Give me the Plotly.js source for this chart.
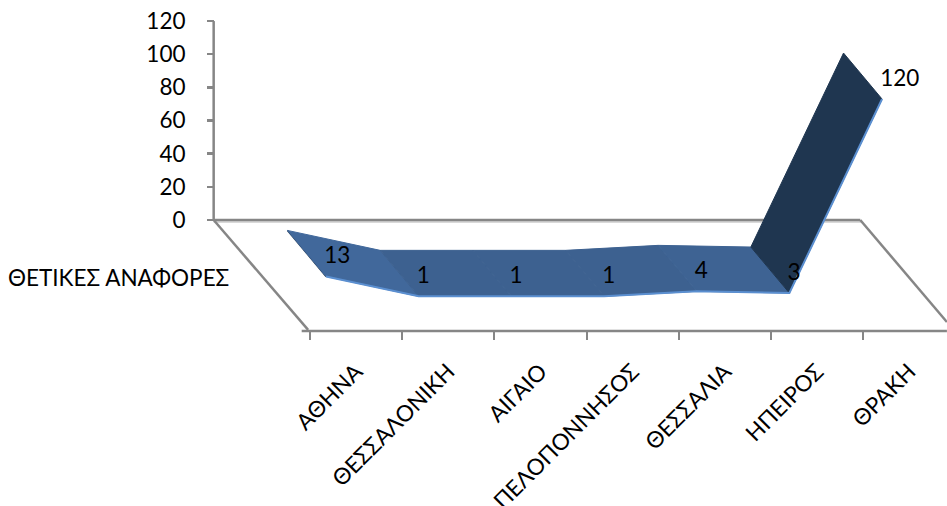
<!DOCTYPE html>
<html><head><meta charset="utf-8">
<script src="https://cdn.plot.ly/plotly-3.0.1.min.js"></script>
<style>html,body{margin:0;padding:0;background:#fff;overflow:hidden}</style>
</head><body><div id="chart" style="width:947px;height:506px"></div>
<script>
const categories = ["ΑΘΗΝΑ","ΘΕΣΣΑΛΟΝΙΚΗ","ΑΙΓΑΙΟ","ΠΕΛΟΠΟΝΝΗΣΟΣ","ΘΕΣΣΑΛΙΑ","ΗΠΕΙΡΟΣ","ΘΡΑΚΗ"];
const values = [13,1,1,1,4,3,120];
const seriesName = "ΘΕΤΙΚΕΣ ΑΝΑΦΟΡΕΣ";
const yTicks = [0,20,40,60,80,100,120];
const segmentColors = ["#41689b","#3d6190","#3d6190","#3d6190","#3e6393","#1f3650"];
const FONT = "Lato, Open Sans, sans-serif";
const AXIS = "#868686";
const TEXT_SIZE = 22.5;

// oblique projection of the 3D area chart onto the two value axes
const FRONT = {shift:0.174, drop:-47.04};
const BACK  = {shift:-0.244, drop:-19.3};
const STEP = 1.0054;
function pt(i,v,d){return [FRONT.shift+(BACK.shift-FRONT.shift)*d+STEP*i, v+FRONT.drop+(BACK.drop-FRONT.drop)*d];}
function line(xs,ys,color,width){return {type:'scatter',mode:'lines',x:xs,y:ys,line:{color:color,width:width},hoverinfo:'skip',cliponaxis:false};}

const traces = [];
// floor
traces.push(line([-1.045,5.98],[-1.2,-1.2],"#d9d9d9",2));
traces.push(line([-1.045,5.97],[0,0],AXIS,2.5));
traces.push(line([-1.045,-1.045],[0,120],AXIS,2.5));
traces.push(line([-0.09,6.91],[-66.9,-66.9],AXIS,2.5));
traces.push(line([-1.045,-0.02],[0,-66.3],AXIS,2.5));
traces.push(line([5.97,6.91],[0,-61.5],AXIS,2.5));
// ribbon
const a0=pt(0,values[0],1), b0=pt(0,values[0],0);
traces.push(line([a0[0],b0[0]],[a0[1],b0[1]],"#1f3650",1.5));
for(let i=0;i<values.length-1;i++){
  const p=[pt(i,values[i],1),pt(i+1,values[i+1],1),pt(i+1,values[i+1],0),pt(i,values[i],0),pt(i,values[i],1)];
  traces.push({type:'scatter',mode:'lines',x:p.map(q=>q[0]),y:p.map(q=>q[1]),fill:'toself',fillcolor:segmentColors[i],
    line:{color:segmentColors[i],width:1},hoverinfo:'skip',cliponaxis:false});
}
const f=values.map((v,i)=>pt(i,v,0));
traces.push(line(f.map(q=>q[0]),f.map(q=>q[1]),"#5b8fd0",2));
traces.push({type:'scatter',mode:'text',x:f.map(q=>q[0]-0.02),y:f.map(q=>q[1]+11.5),text:values.map(String),
  textposition:'middle right',textfont:{family:FONT,size:TEXT_SIZE,color:'#000'},hoverinfo:'skip',cliponaxis:false});

const layout={
  width:947,height:506,margin:{l:0,r:0,t:0,b:0},showlegend:false,
  paper_bgcolor:'#fff',plot_bgcolor:'#fff',
  xaxis:{range:[-3.363,6.911],domain:[0,1],anchor:'free',position:(506-331)/506,showgrid:false,zeroline:false,showline:false,
    tickmode:'array',tickvals:categories.map((c,i)=>i+0.5),ticktext:categories,tickangle:-45,ticks:'',
    ticklabelstandoff:22,ticklabeloverflow:'allow',tickfont:{family:FONT,size:TEXT_SIZE,color:'#000'},
    minor:{tickmode:'array',tickvals:[0,1,2,3,4,5,6],ticks:'outside',ticklen:8,tickwidth:2,tickcolor:AXIS,showgrid:false}},
  yaxis:{range:[-172.5,132.7],domain:[0,1],anchor:'free',position:214/947,showgrid:false,zeroline:false,showline:false,
    tickmode:'array',tickvals:yTicks,ticks:'outside',ticklen:7,tickwidth:2.5,tickcolor:AXIS,
    ticklabelstandoff:17,ticklabeloverflow:'allow',tickfont:{family:FONT,size:TEXT_SIZE,color:'#000'}},
  annotations:[{text:seriesName,xref:'paper',yref:'paper',x:118/947,y:(506-278)/506,xanchor:'center',yanchor:'middle',
    showarrow:false,font:{family:FONT,size:TEXT_SIZE,color:'#000'}}]
};
Plotly.newPlot('chart',traces,layout,{staticPlot:true,displayModeBar:false});
</script></body></html>
